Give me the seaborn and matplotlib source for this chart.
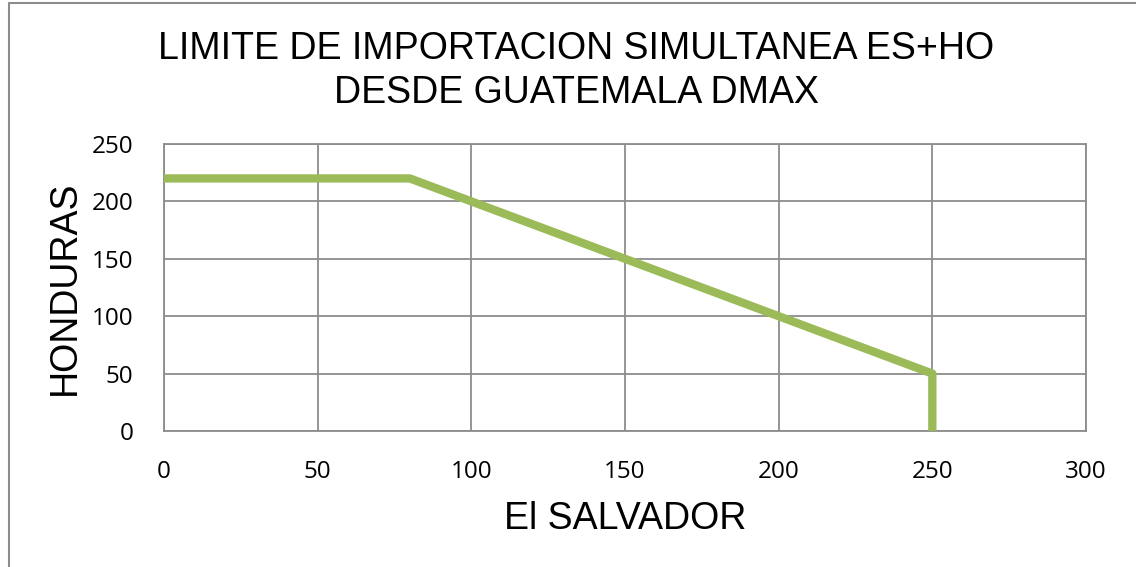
import matplotlib
matplotlib.use("Agg")
import matplotlib.pyplot as plt
import seaborn as sns
import pandas as pd
from matplotlib.lines import Line2D

# Import limit boundary: El Salvador vs Honduras
el_salvador = [0, 80, 250, 250]
honduras = [220, 220, 50, 0]
x_ticks = [0, 50, 100, 150, 200, 250, 300]
y_ticks = [0, 50, 100, 150, 200, 250]

df = pd.DataFrame({"El SALVADOR": el_salvador, "HONDURAS": honduras})

sns.set_theme(style="white")
plt.rcParams["font.family"] = ["Liberation Sans", "DejaVu Sans"]
plt.rcParams["text.color"] = "black"
plt.rcParams["axes.labelcolor"] = "black"
plt.rcParams["xtick.color"] = "black"
plt.rcParams["ytick.color"] = "black"

fig = plt.figure(figsize=(11.36, 5.67), dpi=100)
ax = fig.add_axes([164 / 1136, 1 - 431 / 567, (1086 - 164) / 1136, (431 - 144) / 567])

grid_c = "#8c8c8c"
sns.lineplot(data=df, x="El SALVADOR", y="HONDURAS", sort=False, estimator=None,
             color="#9BBB59", linewidth=6, ax=ax, zorder=3,
             solid_joinstyle="round", solid_capstyle="butt")

ax.set_xlim(0, 300)
ax.set_ylim(0, 250)
ax.set_xticks(x_ticks)
ax.set_yticks(y_ticks)
ax.grid(True, color=grid_c, linewidth=1.3)
for s in ax.spines.values():
    s.set_color(grid_c)
    s.set_linewidth(1.3)

tick_font = {"family": ["Open Sans", "DejaVu Sans"], "size": 17.5}
ax.set_xticklabels([str(v) for v in x_ticks], fontdict=tick_font, color="black")
ax.set_yticklabels([str(v) for v in y_ticks], fontdict=tick_font, color="black")
ax.tick_params(axis="x", length=0, pad=21)
ax.tick_params(axis="y", length=0, pad=22)

ax.set_xlabel("El SALVADOR", fontsize=27, labelpad=12, color="black")
ax.set_ylabel("HONDURAS", fontsize=27, labelpad=6, color="black")

fig.text(576 / 1136, 1 - 31 / 567, "LIMITE DE IMPORTACION SIMULTANEA ES+HO\nDESDE GUATEMALA DMAX",
         ha="center", va="top", fontsize=27, linespacing=1.3, color="black")

# chart frame (top and left edges)
fig.add_artist(Line2D([9 / 1136, 9 / 1136, 1.0], [0.0, 1 - 3 / 567, 1 - 3 / 567],
                      transform=fig.transFigure, color="#8c8c8c", linewidth=1.5))

fig.savefig("out.png", dpi=100, facecolor="white")
